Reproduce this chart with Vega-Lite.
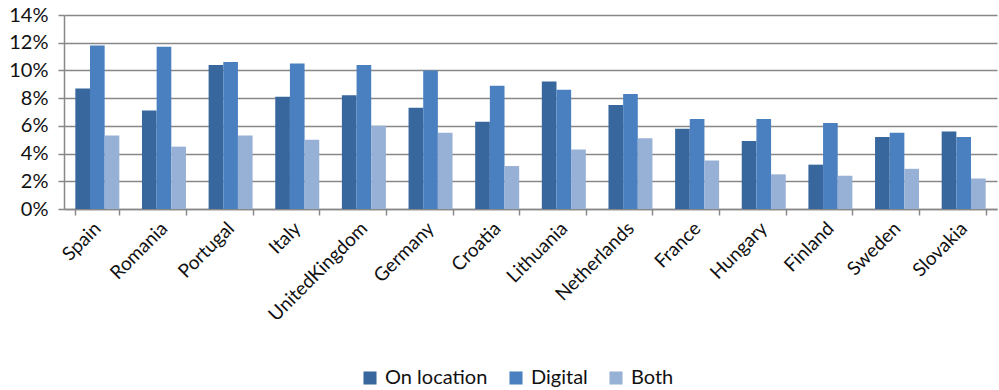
{
  "$schema": "https://vega.github.io/schema/vega-lite/v6.json",
  "width": 933,
  "height": 194,
  "autosize": {"type": "none"},
  "padding": {"left": 64, "top": 15, "right": 2, "bottom": 181},
  "background": "white",
  "config": {
    "view": {"stroke": null},
    "font": "Lato, Open Sans, sans-serif"
  },
  "data": {
    "values": [
      {"country": "Spain", "type": "On location", "value": 8.7},
      {"country": "Spain", "type": "Digital", "value": 11.8},
      {"country": "Spain", "type": "Both", "value": 5.3},
      {"country": "Romania", "type": "On location", "value": 7.1},
      {"country": "Romania", "type": "Digital", "value": 11.7},
      {"country": "Romania", "type": "Both", "value": 4.5},
      {"country": "Portugal", "type": "On location", "value": 10.4},
      {"country": "Portugal", "type": "Digital", "value": 10.6},
      {"country": "Portugal", "type": "Both", "value": 5.3},
      {"country": "Italy", "type": "On location", "value": 8.1},
      {"country": "Italy", "type": "Digital", "value": 10.5},
      {"country": "Italy", "type": "Both", "value": 5.0},
      {"country": "UnitedKingdom", "type": "On location", "value": 8.2},
      {"country": "UnitedKingdom", "type": "Digital", "value": 10.4},
      {"country": "UnitedKingdom", "type": "Both", "value": 6.0},
      {"country": "Germany", "type": "On location", "value": 7.3},
      {"country": "Germany", "type": "Digital", "value": 10.0},
      {"country": "Germany", "type": "Both", "value": 5.5},
      {"country": "Croatia", "type": "On location", "value": 6.3},
      {"country": "Croatia", "type": "Digital", "value": 8.9},
      {"country": "Croatia", "type": "Both", "value": 3.1},
      {"country": "Lithuania", "type": "On location", "value": 9.2},
      {"country": "Lithuania", "type": "Digital", "value": 8.6},
      {"country": "Lithuania", "type": "Both", "value": 4.3},
      {"country": "Netherlands", "type": "On location", "value": 7.5},
      {"country": "Netherlands", "type": "Digital", "value": 8.3},
      {"country": "Netherlands", "type": "Both", "value": 5.1},
      {"country": "France", "type": "On location", "value": 5.8},
      {"country": "France", "type": "Digital", "value": 6.5},
      {"country": "France", "type": "Both", "value": 3.5},
      {"country": "Hungary", "type": "On location", "value": 4.9},
      {"country": "Hungary", "type": "Digital", "value": 6.5},
      {"country": "Hungary", "type": "Both", "value": 2.5},
      {"country": "Finland", "type": "On location", "value": 3.2},
      {"country": "Finland", "type": "Digital", "value": 6.2},
      {"country": "Finland", "type": "Both", "value": 2.4},
      {"country": "Sweden", "type": "On location", "value": 5.2},
      {"country": "Sweden", "type": "Digital", "value": 5.5},
      {"country": "Sweden", "type": "Both", "value": 2.9},
      {"country": "Slovakia", "type": "On location", "value": 5.6},
      {"country": "Slovakia", "type": "Digital", "value": 5.2},
      {"country": "Slovakia", "type": "Both", "value": 2.2}
    ]
  },
  "mark": {"type": "bar"},
  "encoding": {
    "x": {
      "field": "country",
      "type": "nominal",
      "sort": null,
      "title": null,
      "scale": {"paddingInner": 0.34, "paddingOuter": 0.17},
      "axis": {
        "labelAngle": -45,
        "labelAlign": "right",
        "labelBaseline": "middle",
        "labelFontSize": 19,
        "labelColor": "#111",
        "labelPadding": 10,
        "tickBand": "extent",
        "tickColor": "#888",
        "tickSize": 6,
        "tickWidth": 1.5,
        "domainColor": "#888",
        "domainWidth": 1.5,
        "grid": false
      }
    },
    "xOffset": {
      "field": "type",
      "type": "nominal",
      "sort": ["On location", "Digital", "Both"],
      "scale": {"paddingInner": 0}
    },
    "y": {
      "field": "value",
      "type": "quantitative",
      "title": null,
      "scale": {"domain": [0, 14], "nice": false},
      "axis": {
        "values": [0, 2, 4, 6, 8, 10, 12, 14],
        "labelExpr": "datum.value + '%'",
        "labelFontSize": 20,
        "labelColor": "#111",
        "labelPadding": 10,
        "tickColor": "#888",
        "tickSize": 6,
        "tickWidth": 1.5,
        "domainColor": "#888",
        "domainWidth": 1.5,
        "gridColor": "#888",
        "gridWidth": 1.5,
        "gridOpacity": 1
      }
    },
    "color": {
      "field": "type",
      "type": "nominal",
      "sort": ["On location", "Digital", "Both"],
      "scale": {
        "domain": ["On location", "Digital", "Both"],
        "range": ["#37679d", "#4a80c0", "#97b0d6"]
      },
      "legend": {
        "title": null,
        "orient": "none",
        "direction": "horizontal",
        "legendX": 296,
        "legendY": 353,
        "symbolType": "square",
        "symbolSize": 170,
        "symbolStrokeWidth": 0,
        "labelFontSize": 20,
        "labelColor": "#111",
        "columnPadding": 18,
        "labelOffset": 5
      }
    }
  }
}
